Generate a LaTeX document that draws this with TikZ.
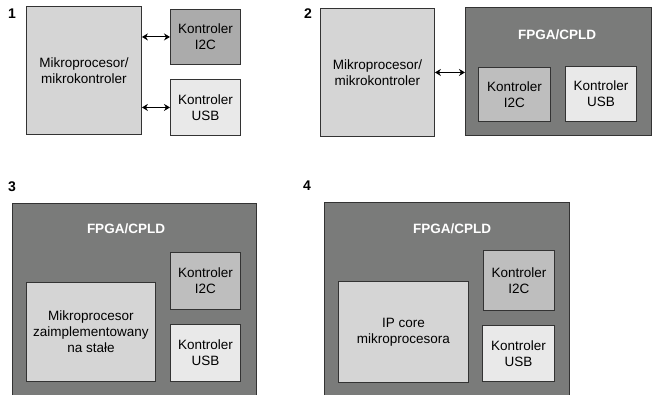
\documentclass[tikz,border=0pt]{standalone}
\usepackage{fontspec}
\setmainfont{Liberation Sans}
\usetikzlibrary{positioning}
\usetikzlibrary{arrows.meta}

\definecolor{fpgagray}{HTML}{7A7B7A}
\definecolor{cpugray}{HTML}{D5D5D5}
\definecolor{itwogray}{HTML}{BEBEBE}
\definecolor{itwodark}{HTML}{ABABAB}
\definecolor{usbgray}{HTML}{E9E9E9}
\definecolor{edgegray}{HTML}{333333}

\begin{document}
\begin{tikzpicture}[x=1pt,y=-1pt,
        blok/.style={draw=edgegray, line width=0.9pt, anchor=north west, align=center,
            inner sep=0pt, font=\fontsize{13.5}{16}\selectfont},
        tytul/.style={text=white, font=\fontsize{13.5}{16}\selectfont\bfseries},
        numer/.style={font=\fontsize{14}{16}\selectfont\bfseries},
        pijl/.style={{Stealth[length=6pt,width=7pt]}-{Stealth[length=6pt,width=7pt]}, line width=1pt}]
        \clip (0,0) rectangle (656,394);

        % 1
        \node[numer] (nra) at (12,14) {1};
        \node[blok, fill=cpugray, minimum width=115, minimum height=128] (cpua) at (26,6) {Mikroprocesor/\\mikrokontroler};
        \node[blok, fill=itwodark, minimum width=70, minimum height=55] (i2ca) at (170,9) {Kontroler\\I2C};
        \node[blok, fill=usbgray, minimum width=70, minimum height=56] (usba) at (170,79) {Kontroler\\USB};
        \draw[pijl] (cpua.east |- i2ca.west) -- (i2ca.west);
        \draw[pijl] (cpua.east |- usba.west) -- (usba.west);

        % 2
        \node[numer] (nrb) at (308,14) {2};
        \node[blok, fill=cpugray, minimum width=114, minimum height=128] (cpub) at (320,8) {Mikroprocesor/\\mikrokontroler};
        \node[blok, fill=fpgagray, minimum width=186, minimum height=128] (fpgab) at (465,7) {};
        \node[tytul] (tytb) at (557,35) {FPGA/CPLD};
        \node[blok, fill=itwogray, minimum width=72, minimum height=54] (i2cb) at (478,67) {Kontroler\\I2C};
        \node[blok, fill=usbgray, minimum width=71, minimum height=55] (usbb) at (565,66) {Kontroler\\USB};
        \draw[pijl] (cpub.east) -- (cpub.east -| fpgab.west);

        % 3
        \node[numer] (nrc) at (12,187) {3};
        \node[blok, fill=fpgagray, minimum width=244, minimum height=200] (fpgac) at (12,203) {};
        \node[tytul] (tytc) at (126,229) {FPGA/CPLD};
        \node[blok, fill=cpugray, minimum width=129, minimum height=99] (cpuc) at (26,282) {Mikroprocesor\\zaimplementowany\\na stałe};
        \node[blok, fill=itwogray, minimum width=70, minimum height=57] (i2cc) at (170,252) {Kontroler\\I2C};
        \node[blok, fill=usbgray, minimum width=70, minimum height=57] (usbc) at (170,324) {Kontroler\\USB};

        % 4
        \node[numer] (nrd) at (307,186) {4};
        \node[blok, fill=fpgagray, minimum width=245, minimum height=200] (fpgad) at (324,202) {};
        \node[tytul] (tytd) at (452,229) {FPGA/CPLD};
        \node[blok, fill=cpugray, minimum width=130, minimum height=101] (cpud) at (338,281) {IP core\\mikroprocesora};
        \node[blok, fill=itwogray, minimum width=71, minimum height=60] (i2cd) at (483,250) {Kontroler\\I2C};
        \node[blok, fill=usbgray, minimum width=72, minimum height=56] (usbd) at (482,325) {Kontroler\\USB};
    \end{tikzpicture}
\end{document}
